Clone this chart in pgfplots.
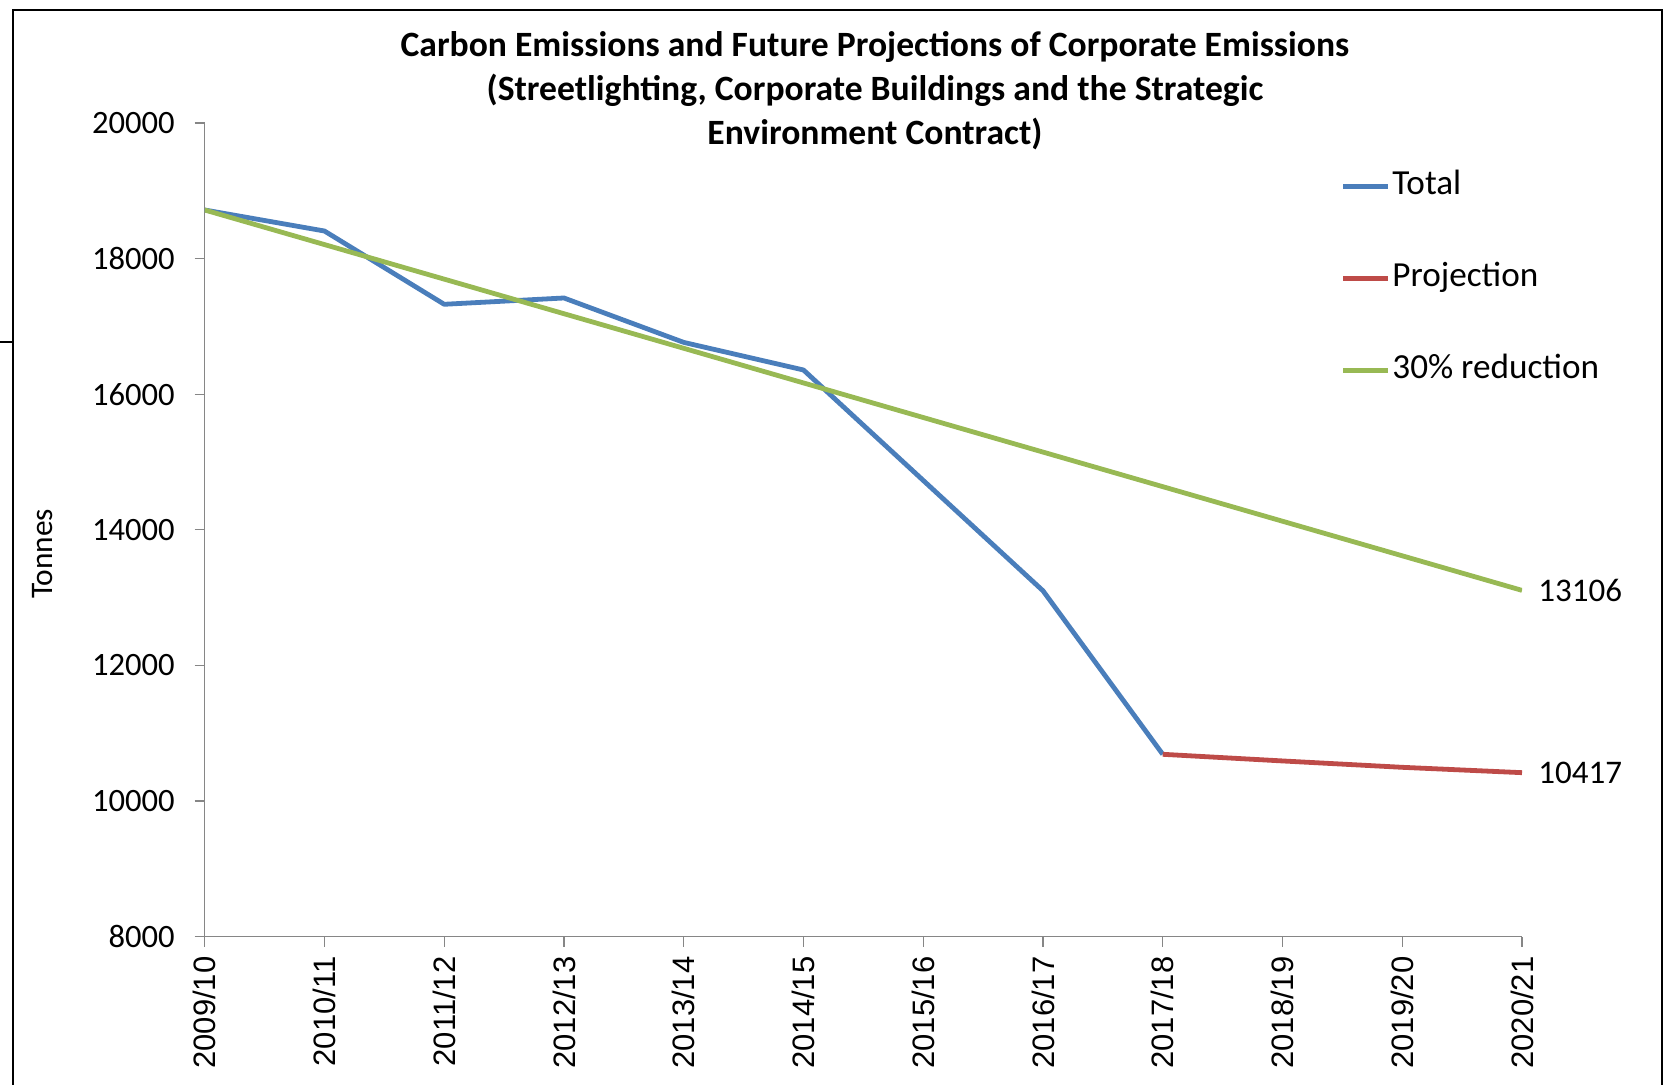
\documentclass[border=0pt]{standalone}
\usepackage{pgfplots}
\pgfplotsset{compat=1.18}
\usepackage{fontspec}
\setmainfont{Carlito}
\newfontfamily\arialfont{Liberation Sans}
\definecolor{cTotal}{HTML}{4A7EBB}
\definecolor{cProj}{HTML}{BE4B48}
\definecolor{cRed}{HTML}{98B954}
\definecolor{axisgrey}{HTML}{868686}
\begin{document}
\begin{tikzpicture}
\begin{scope}[x=0.5pt,y=-0.5pt]
\useasboundingbox (0,0) rectangle (1663,1084);
\draw[line width=1pt] (12.7,1100) -- (12.7,9.5) -- (1662,9.5) -- (1662,1100);
\draw[line width=1pt] (0,342) -- (12.7,342);
\end{scope}
\begin{axis}[
  at={(102.35pt,-468.25pt)}, anchor=south west, scale only axis,
  width=658.65pt, height=406.75pt,
  xmin=0, xmax=11, ymin=8000, ymax=20000,
  clip mode=individual,
  axis lines=left,
  axis line style={axisgrey, line width=0.6pt, -},
  tick style={axisgrey, line width=0.6pt},
  tick align=outside, major tick length=5pt,
  xtick={0,...,11},
  xticklabels={2009/10,2010/11,2011/12,2012/13,2013/14,2014/15,2015/16,2016/17,2017/18,2018/19,2019/20,2020/21},
  ytick={8000,10000,...,20000},
  /pgf/number format/assume math mode=true,
  scaled y ticks=false,
  yticklabel style={/pgf/number format/1000 sep={}, font=\fontsize{16.3}{18}\selectfont, anchor=east, xshift=-6.5pt},
  xticklabel style={font=\arialfont\fontsize{15.5}{18}\selectfont, rotate=90, anchor=east, xshift=-1.5pt},
  title={Carbon Emissions and Future Projections of Corporate Emissions\\(Streetlighting, Corporate Buildings and the Strategic\\Environment Contract)},
  title style={at={(axis description cs:0.5088,1.0246)}, anchor=center, align=center, font=\bfseries\fontsize{17.8}{22}\selectfont},
  ylabel={Tonnes},
  every axis y label/.style={at={(axis description cs:-0.1232,0.4702)}, rotate=90, anchor=center, font=\fontsize{15.7}{18}\selectfont},
  legend style={at={(axis description cs:0.8620,0.9442)}, anchor=north west, draw=none, fill=none, inner sep=0pt,
    font=\fontsize{17.6}{21}\selectfont, row sep=28pt,
    nodes={inner sep=1pt, text height=12pt, text depth=4pt}},
  legend cell align=left,
  legend image code/.code={\draw[#1] (0pt,0pt) -- (22.5pt,0pt);},
  line join=round,
]
\addplot[cTotal, line width=2.4pt] coordinates {(0,18717)(1,18407)(2,17326)(3,17419)(4,16764)(5,16357)(6,14728)(7,13100)(8,10688)};
\addlegendentry{Total}
\addplot[cProj, line width=2.4pt] coordinates {(8,10688)(9,10590)(10,10496)(11,10417)};
\addlegendentry{Projection}
\addplot[cRed, line width=2.4pt] coordinates {(0,18717)(1,18207)(2,17697)(3,17187)(4,16677)(5,16166)(6,15656)(7,15146)(8,14636)(9,14126)(10,13616)(11,13106)};
\addlegendentry{30\% reduction}
\node[anchor=west, inner sep=0pt, xshift=8pt, font=\fontsize{16.5}{19}\selectfont] at (axis cs:11,13106) {13106};
\node[anchor=west, inner sep=0pt, xshift=8pt, font=\fontsize{16.5}{19}\selectfont] at (axis cs:11,10417) {10417};
\end{axis}
\end{tikzpicture}
\end{document}
